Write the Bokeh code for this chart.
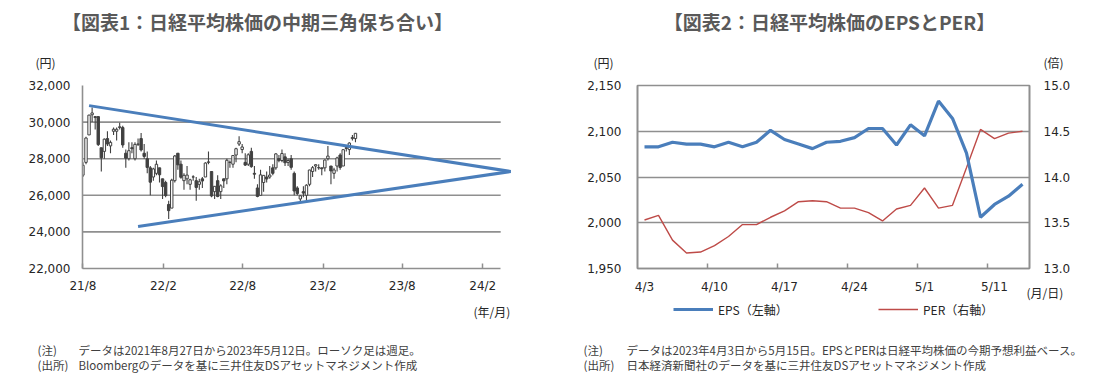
import pandas as pd
from bokeh.plotting import figure
from bokeh.models import (ColumnDataSource, FixedTicker, NumeralTickFormatter, Label,
                          Legend, LegendItem, LinearAxis, Range1d)
from bokeh.layouts import row
from bokeh.embed import file_html
from bokeh.resources import INLINE

# ---------------- Chart 1 data: Nikkei weekly candles (2021-08-27 .. 2023-05-12)
first_week = "2021-08-27"
opens = [27100, 27800, 29300, 30400, 30300, 30300, 28600, 28400, 29100, 28700, 29500, 29500, 29700, 29700, 28300, 28000, 28600, 28000, 28800,
         29100, 28300, 28000, 27500, 27000, 27200, 27500, 26900, 26700, 25500, 25300, 26800, 28300, 27700, 26800, 26900, 26600, 27000, 26800, 26600,
         26900, 27000, 27800, 27300, 26200, 26800, 26200, 26900, 26900, 27800, 27700, 28200, 28800, 28500, 27800, 27700, 28400, 27200, 26400, 26000,
         26700, 27000, 27000, 27500, 27500, 28000, 27900, 28100, 27800, 28000, 27200, 26400,
         25800, 26200, 26000, 26600, 27300, 27600, 27500, 27500, 27500, 28000, 27600, 27200, 27600, 28200, 27600, 28600, 28500, 29100, 29100]
highs = [27800, 29200, 30400, 30795, 30300, 30300, 28600, 29100, 29500, 29000, 29700, 29700, 29960, 29800, 28500, 28900, 28900, 28900, 29100,
         29400, 28800, 28400, 27600, 27500, 27900, 27500, 26900, 26800, 25700, 26900, 28200, 28300, 27900, 27200, 27600, 26900, 27100, 27000, 26900,
         27000, 27800, 28400, 27300, 26500, 27100, 26600, 26900, 28000, 27900, 28200, 28600, 29222, 28800, 28300, 28300, 28600, 27600, 26600, 27400,
         27100, 27300, 27600, 27700, 28300, 28200, 28500, 28300, 28000, 28200, 27300, 26500,
         26000, 26500, 26600, 27400, 27600, 27700, 27700, 27500, 27950, 28700, 27600, 27500, 28100, 28300, 28500, 28700, 28900, 29300, 29400]
lows = [27000, 27700, 29300, 30000, 29600, 28700, 27300, 28000, 28700, 28300, 29300, 29000, 29600, 28600, 27500, 27900, 28300, 27900, 28700,
        28400, 28000, 27200, 26000, 26800, 27100, 26700, 25800, 25900, 24700, 25300, 26700, 27400, 26900, 26300, 26600, 26300, 26800, 25700, 26300,
        26400, 27000, 27700, 25900, 25800, 25900, 25800, 26400, 26600, 27500, 27500, 27800, 28700, 28300, 27600, 27600, 27500, 26900, 25900, 26000,
        26200, 26700, 26900, 27100, 27400, 27800, 27800, 27600, 27600, 27400, 26000, 26000,
        25600, 25900, 25700, 26500, 27000, 27300, 27400, 27100, 27300, 27900, 26600, 26900, 27300, 27400, 27600, 28400, 28200, 29000, 28900]
closes = [27641, 29128, 30382, 30500, 30248, 28771, 28048, 29068, 28804, 28892, 29611, 29609, 29745, 28751, 28029, 28437, 28545, 28782, 28791,
          28478, 28124, 27522, 26717, 27440, 27696, 27122, 26476, 25985, 25162, 26827, 28149, 27665, 26985, 27093, 27105, 26848, 27004, 26428, 26739,
          26782, 27762, 27825, 25963, 26491, 25936, 26517, 26788, 27914, 27801, 28175, 28546, 28930, 28641, 27650, 28214, 27567, 27153, 25937, 27116,
          27090, 26891, 27105, 27199, 28263, 27899, 28283, 27777, 27901, 27527, 26235, 26095,
          25974, 26120, 26554, 27383, 27509, 27671, 27513, 27453, 27927, 28143, 27333, 27385, 28041, 27518, 28493, 28564, 28856, 29157, 29388]

trend_upper_dates = ["2021-09-10", "2024-05-01"]
trend_upper_vals = [30900, 27300]
trend_lower_dates = ["2021-12-31", "2024-05-01"]
trend_lower_vals = [24300, 27300]

y1_grid = [24000, 26000, 28000, 30000]
y1_ticks = [22000, 24000, 26000, 28000, 30000, 32000]
x1_tick_dates = ["2021-08-27", "2022-02-27", "2022-08-27", "2023-02-27", "2023-08-27", "2024-02-27"]
x1_tick_labels = ["21/8", "22/2", "22/8", "23/2", "23/8", "24/2"]

# ---------------- Chart 2 data: EPS & PER (business days, 2023-04-03 .. 2023-05-15)
days = ["4/3", "4/4", "4/5", "4/6", "4/7", "4/10", "4/11", "4/12", "4/13", "4/14",
        "4/17", "4/18", "4/19", "4/20", "4/21", "4/24", "4/25", "4/26", "4/27", "4/28",
        "5/1", "5/2", "5/8", "5/9", "5/10", "5/11", "5/12", "5/15"]
eps = [2083, 2083, 2088, 2086, 2086, 2083, 2088, 2083, 2088, 2101,
       2091, 2086, 2081, 2088, 2089, 2093, 2103, 2103, 2085, 2107,
       2095, 2133, 2114, 2076, 2006, 2020, 2029, 2042]
per = [13.53, 13.58, 13.31, 13.17, 13.18, 13.25, 13.35, 13.48, 13.48, 13.56,
       13.63, 13.73, 13.74, 13.73, 13.66, 13.66, 13.61, 13.52, 13.65, 13.69,
       13.88, 13.66, 13.69, 14.10, 14.52, 14.42, 14.48, 14.50]
x2_label_idx = [0, 5, 10, 15, 20, 25]
x2_bound_idx = [4.5, 9.5, 14.5, 19.5, 24.5]
y2_ticks = [1950, 2000, 2050, 2100, 2150]
y2r_ticks = [13.0, 13.5, 14.0, 14.5, 15.0]

# ---------------- texts
title1 = "【図表1：日経平均株価の中期三角保ち合い】"
title2 = "【図表2：日経平均株価のEPSとPER】"
note1 = ["(注)", "データは2021年8月27日から2023年5月12日。ローソク足は週足。",
         "(出所)", "Bloombergのデータを基に三井住友DSアセットマネジメント作成"]
note2 = ["(注)", "データは2023年4月3日から5月15日。EPSとPERは日経平均株価の今期予想利益ベース。",
         "(出所)", "日本経済新聞社のデータを基に三井住友DSアセットマネジメント作成"]

# ---------------- styles
JP = "Noto Sans CJK JP"
NUM = "DejaVu Sans"
TXT = "#262626"
NOTE = "#404040"
GRAY = "#8f8f8f"
BLUE = "#4A7EBB"
RED = "#BE4B48"
CANDLE = "#404040"
W, H = 1111, 381


def ms(d):
    return pd.Timestamp(d).value / 1e6


def style_axis(ax, standoff):
    ax.axis_line_color = GRAY
    ax.axis_line_width = 1.6
    ax.major_label_text_font = NUM
    ax.major_label_text_font_size = "12px"
    ax.major_label_text_color = TXT
    ax.major_tick_out = 0
    ax.minor_tick_out = 0
    ax.major_label_standoff = standoff


# ================= Figure 1 (page x 0..560)
dates = pd.date_range(first_week, periods=len(closes), freq="7D")
src = pd.DataFrame(dict(date=dates, o=opens, h=highs, l=lows, c=closes))
src["top"] = src[["o", "c"]].max(axis=1)
src["bot"] = src[["o", "c"]].min(axis=1)
up = ColumnDataSource(src[src.c >= src.o])
dn = ColumnDataSource(src[src.c < src.o])
allsrc = ColumnDataSource(src)

x_start = pd.Timestamp(first_week) - pd.Timedelta(days=1)
x_end = x_start + pd.Timedelta(days=983)
grid_end = pd.Timestamp("2024-04-08")

p1 = figure(width=560, height=H, x_axis_type="datetime", output_backend="svg", toolbar_location=None,
            x_range=Range1d(x_start, x_end), y_range=Range1d(22000, 32000),
            min_border_left=82, min_border_right=48, min_border_top=85, min_border_bottom=111)
p1.outline_line_color = None
p1.grid.visible = False

for v in y1_grid:
    p1.segment(x0=[x_start], x1=[grid_end], y0=[v], y1=[v], line_color=GRAY, line_width=1.6)

p1.segment(x0="date", x1="date", y0="l", y1="h", source=allsrc, line_color=CANDLE, line_width=1.1)
w = 5.5 * 86400000
p1.vbar(x="date", width=w, top="top", bottom="bot", source=up, fill_color="white", line_color=CANDLE, line_width=1)
p1.vbar(x="date", width=w, top="top", bottom="bot", source=dn, fill_color=CANDLE, line_color=CANDLE, line_width=1)

p1.line(x=pd.to_datetime(trend_upper_dates), y=trend_upper_vals, line_color=BLUE, line_width=3)
p1.line(x=pd.to_datetime(trend_lower_dates), y=trend_lower_vals, line_color=BLUE, line_width=3)

xt = [ms(d) for d in x1_tick_dates]
p1.xaxis.ticker = FixedTicker(ticks=xt)
p1.xaxis.major_label_overrides = {t: s for t, s in zip(xt, x1_tick_labels)}
p1.xaxis.bounds = (x_start, grid_end)
p1.yaxis.ticker = FixedTicker(ticks=y1_ticks)
p1.yaxis.formatter = NumeralTickFormatter(format="0,0")
style_axis(p1.xaxis[0], 10)
style_axis(p1.yaxis[0], 12)
p1.xaxis.major_tick_in = 5
p1.xaxis.major_tick_line_color = GRAY
p1.xaxis.major_tick_line_width = 1.5
p1.xaxis.minor_tick_line_color = None
p1.yaxis.major_tick_line_color = None
p1.yaxis.minor_tick_line_color = None

# ================= Figure 2 (page x 560..1111)
idx = list(range(len(days)))
s2 = ColumnDataSource(dict(x=idx, eps=eps, per=per))
p2 = figure(width=W - 560, height=H, output_backend="svg", toolbar_location=None,
            x_range=Range1d(-0.5, len(days) - 0.5), y_range=Range1d(1950, 2150),
            min_border_left=77, min_border_right=82, min_border_top=78, min_border_bottom=113)
p2.extra_y_ranges = {"per": Range1d(13, 15)}
p2.outline_line_color = GRAY
p2.outline_line_width = 1.6
p2.xgrid.visible = False
p2.ygrid.grid_line_color = GRAY
p2.ygrid.grid_line_width = 1.6

r_per = p2.line("x", "per", source=s2, y_range_name="per", line_color=RED, line_width=1.4)
r_eps = p2.line("x", "eps", source=s2, line_color=BLUE, line_width=3.2)

p2.xaxis.ticker = FixedTicker(ticks=x2_label_idx, minor_ticks=x2_bound_idx)
p2.xaxis.major_label_overrides = {i: days[i] for i in x2_label_idx}
p2.yaxis.ticker = FixedTicker(ticks=y2_ticks)
p2.yaxis.formatter = NumeralTickFormatter(format="0,0")
ax_r = LinearAxis(y_range_name="per", ticker=FixedTicker(ticks=y2r_ticks),
                  formatter=NumeralTickFormatter(format="0.0"))
p2.add_layout(ax_r, "right")
style_axis(p2.xaxis[0], 11)
style_axis(p2.yaxis[0], 16)
style_axis(ax_r, 14)
p2.xaxis.major_tick_line_color = None
p2.xaxis.minor_tick_in = 5
p2.xaxis.minor_tick_line_color = GRAY
p2.xaxis.minor_tick_line_width = 1.5
for ax in (p2.yaxis[0], ax_r):
    ax.major_tick_line_color = None
    ax.minor_tick_line_color = None

charts = row(p1, p2, spacing=0)

# ================= transparent overlay for texts outside the plot frames (page pixel coords)
ov = figure(width=W, height=H, output_backend="svg", toolbar_location=None,
            x_range=Range1d(0, W), y_range=Range1d(H, 0),
            x_axis_location=None, y_axis_location=None,
            min_border_left=0, min_border_right=0, min_border_top=0, min_border_bottom=0,
            styles={"position": "absolute", "left": "0px", "top": "0px"})
ov.outline_line_color = None
ov.grid.visible = False
ov.background_fill_alpha = 0
ov.border_fill_alpha = 0


def lab(px, py, text, size="12px", font=JP, align="left", color=TXT, style="normal"):
    ov.add_layout(Label(x=px, y=py, text=text, text_font=font, text_font_size=size,
                        text_color=color, text_align=align, text_baseline="middle",
                        text_font_style=style))


lab(257, 21, title1, size="19px", align="center", color="#595959", style="bold")
lab(829, 21, title2, size="19px", align="center", color="#595959", style="bold")
lab(35, 62, "(円)")
lab(593, 62, "(円)")
lab(1043, 62, "(倍)")
lab(473, 311, "(年/月)")
lab(1026, 292, "(月/日)")
for (x0, x1), notes in (((37, 78), note1), ((583, 626), note2)):
    lab(x0, 349, notes[0], size="11.5px", color=NOTE)
    lab(x1, 349, notes[1], size="11.5px", color=NOTE)
    lab(x0, 364, notes[2], size="11.5px", color=NOTE)
    lab(x1, 364, notes[3], size="11.5px", color=NOTE)

# legend samples: renderers carrying the series styles, with no visible points
nan = float("nan")
l_eps = ov.line(x=[nan, nan], y=[nan, nan], line_color=BLUE, line_width=3.2)
l_per = ov.line(x=[nan, nan], y=[nan, nan], line_color=RED, line_width=1.4)
for item, xloc in ((LegendItem(label="EPS（左軸）", renderers=[l_eps]), 673),
                   (LegendItem(label="PER（右軸）", renderers=[l_per]), 878)):
    lg = Legend(items=[item], location=(xloc, H - 319), orientation="horizontal", padding=0, margin=0,
                border_line_color=None, background_fill_alpha=0, glyph_width=40, glyph_height=20,
                label_standoff=5, label_text_font=JP, label_text_font_size="12px", label_text_color=TXT)
    ov.add_layout(lg, "center")

open("out.html", "w").write(file_html([charts, ov], INLINE))
